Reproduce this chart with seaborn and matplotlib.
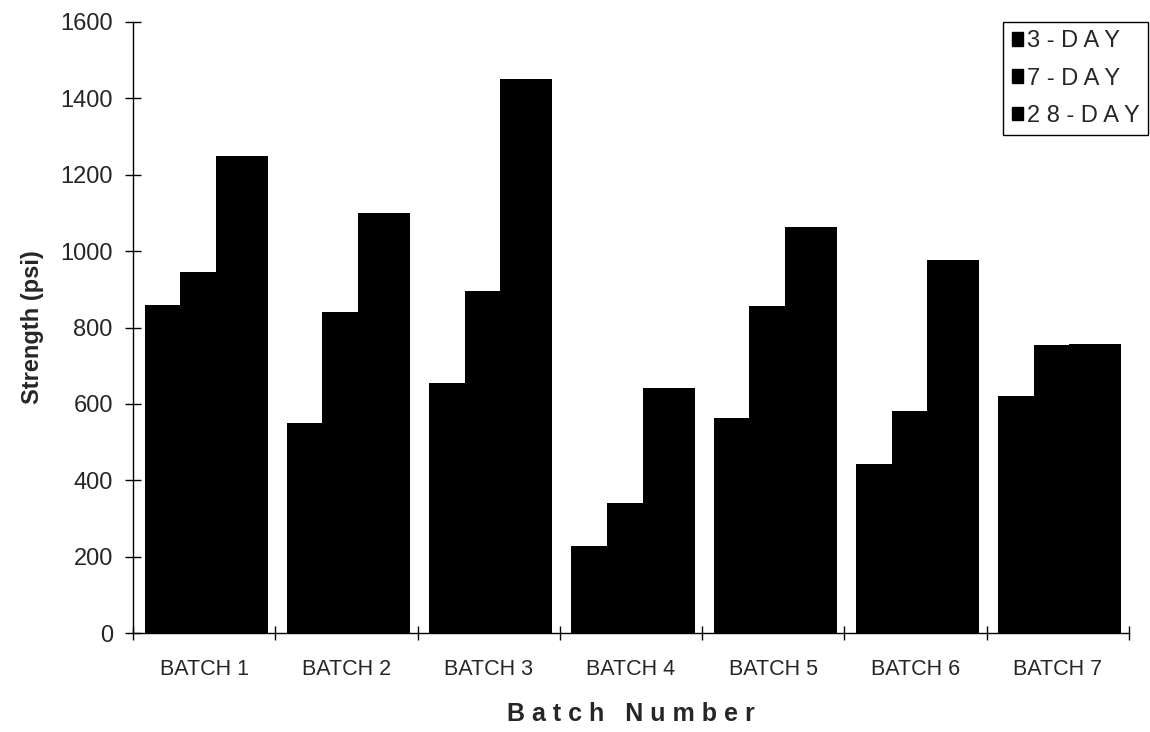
import numpy as np
import pandas as pd
import matplotlib
matplotlib.use("Agg")
import matplotlib.pyplot as plt
from matplotlib.patches import Patch
from matplotlib.ticker import FixedLocator, MultipleLocator
import seaborn as sns

# ---- data ----
batches = ["BATCH 1", "BATCH 2", "BATCH 3", "BATCH 4", "BATCH 5", "BATCH 6", "BATCH 7"]
ages = ["3-DAY", "7-DAY", "28-DAY"]
day3 = [859, 551, 654, 229, 562, 442, 621]
day7 = [945, 841, 895, 340, 856, 582, 755]
day28 = [1249, 1100, 1452, 641, 1062, 978, 758]
legend_labels = ["3 - D A Y", "7 - D A Y", "2 8 - D A Y"]

df = pd.DataFrame({
    "Batch": batches * 3,
    "Age": [a for a in ages for _ in batches],
    "Strength": day3 + day7 + day28,
})

sns.set_style("white")
plt.rcParams["font.family"] = ["Liberation Sans", "DejaVu Sans"]

W, H = 1150, 732
fig = plt.figure(figsize=(W / 100, H / 100), dpi=100)
ax = fig.add_axes([133 / W, 99 / H, 996 / W, 611 / H])

sns.barplot(data=df, x="Batch", y="Strength", hue="Age", hue_order=ages,
            order=batches, palette={a: "black" for a in ages}, width=0.75,
            saturation=1, errorbar=None, linewidth=0, legend=False, ax=ax)

# overlapping bars (Excel-style overlap)
bw = 0.366
for cont in ax.containers:
    for p in cont:
        cx = p.get_x() + p.get_width() / 2 + 0.014
        p.set_width(bw)
        p.set_x(cx - bw / 2)

ax.set_xlim(-0.5, 6.5)
ax.set_ylim(0, 1600)
ax.yaxis.set_major_locator(MultipleLocator(200))
sns.despine(ax=ax)
for s in ["left", "bottom"]:
    ax.spines[s].set_color("black")
    ax.spines[s].set_linewidth(1.0)

ax.tick_params(axis="y", direction="inout", length=11, width=1, color="black",
               labelsize=17, pad=9, left=True)
ax.xaxis.set_minor_locator(FixedLocator(np.arange(-0.5, 7.0, 1.0)))
ax.tick_params(axis="x", which="major", length=0, labelsize=15.5, pad=19)
ax.tick_params(axis="x", which="minor", direction="inout", length=10, width=1,
               color="black", bottom=True)

ax.set_xlabel("")
ax.set_ylabel("Strength (psi)", fontsize=17, fontweight="bold", labelpad=12)

fig.text(631 / W, 1 - 714 / H, "B a t c h   N u m b e r", ha="center", va="center",
         fontsize=18, fontweight="bold")

handles = [Patch(facecolor="black", edgecolor="black") for _ in ages]
leg = fig.legend(handles, legend_labels, loc="upper right",
                 bbox_to_anchor=(1148 / W, 1 - 22 / H), borderaxespad=0,
                 fontsize=17, handlelength=0.5, handleheight=0.5,
                 handletextpad=0.15, borderpad=0.35, labelspacing=0.65,
                 fancybox=False, framealpha=1, edgecolor="black")
leg.get_frame().set_linewidth(1.0)

fig.savefig("out.png", dpi=100, facecolor="white")
